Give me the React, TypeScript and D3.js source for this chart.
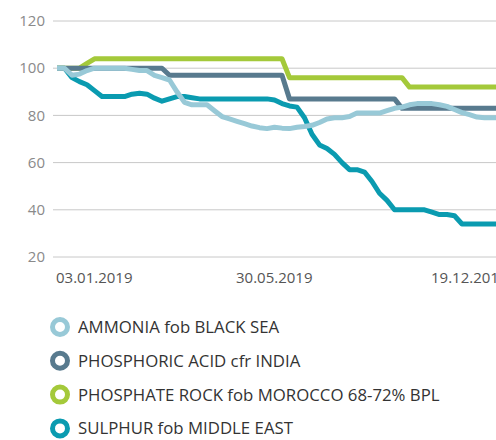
import React from "react";
import * as d3 from "d3";

const width = 496;
const height = 440;

// x categories: weekly-ish price points, only some dates are labelled
const tickLabels = ["03.01.2019", "30.05.2019", "19.12.2019"];
const tickIndex = [0, 24, 50];
const yTicks = [20, 40, 60, 80, 100, 120];

const ammonia = [
  100, 100, 97, 97.5, 99, 100, 100, 100, 100, 100,
  99.5, 99, 99, 97, 96, 95, 90, 85.5, 84.5, 84.5,
  84.5, 82, 79.5, 78.5, 77.5, 76.5, 75.5, 74.8, 74.4, 75,
  74.6, 74.4, 75, 75.3, 75.8, 77, 78.5, 79, 79, 79.5,
  81, 81, 81, 81, 82, 83, 83.5, 84.5, 85, 85,
  85, 84.5, 83.8, 82.5, 81.2, 80.3, 79.3, 79, 79, 79,
];
const phosphoric = [
  100, 100, 100, 100, 100, 100, 100, 100, 100, 100,
  100, 100, 100, 100, 100, 97, 97, 97, 97, 97,
  97, 97, 97, 97, 97, 97, 97, 97, 97, 97,
  97, 87, 87, 87, 87, 87, 87, 87, 87, 87,
  87, 87, 87, 87, 87, 87, 83, 83, 83, 83,
  83, 83, 83, 83, 83, 83, 83, 83, 83, 83,
];
const phosphate = [
  100, 100, 100, 100, 102, 104, 104, 104, 104, 104,
  104, 104, 104, 104, 104, 104, 104, 104, 104, 104,
  104, 104, 104, 104, 104, 104, 104, 104, 104, 104,
  104, 96, 96, 96, 96, 96, 96, 96, 96, 96,
  96, 96, 96, 96, 96, 96, 96, 92, 92, 92,
  92, 92, 92, 92, 92, 92, 92, 92, 92, 92,
];
const sulphur = [
  100, 100, 96, 94.3, 93, 90.5, 88, 88, 88, 88,
  89, 89.4, 89, 87.3, 86, 87, 88, 88, 87.5, 87,
  87, 87, 87, 87, 87, 87, 87, 87, 87, 86.5,
  85, 84, 83.5, 79, 72, 67.5, 66, 63.5, 60, 57,
  57, 56, 52, 47, 44, 40, 40, 40, 40, 40,
  39, 38, 38, 37.5, 34, 34, 34, 34, 34, 34,
];

const seriesNames = [
  "AMMONIA fob BLACK SEA",
  "PHOSPHORIC ACID cfr INDIA",
  "PHOSPHATE ROCK fob MOROCCO 68-72% BPL",
  "SULPHUR fob MIDDLE EAST",
];
const seriesValues = [ammonia, phosphoric, phosphate, sulphur];
const colors = ["#98c9d7", "#587a8e", "#a4c93a", "#0a9bb0"];

export default function App() {
  const plotLeft = 53;
  const x = d3
    .scaleLinear()
    .domain([0, ammonia.length - 1])
    .range([57, 57 + 7.5 * (ammonia.length - 1)]);
  const y = d3.scaleLinear().domain([20, 120]).range([257, 21]);

  const line = d3
    .line<number>()
    .x((_, i) => x(i))
    .y((d) => y(d));

  const drawOrder = [3, 2, 1, 0];

  return (
    <div style={{ position: "absolute", left: 0, top: 0 }}>
      <svg width={width} height={height} style={{ display: "block" }}>
        <defs>
          <clipPath id="plot">
            <rect x={0} y={0} width={width} height={270} />
          </clipPath>
        </defs>
        {yTicks.map((t) => (
          <g key={t}>
            <line x1={plotLeft} x2={width} y1={y(t)} y2={y(t)} stroke="#c8c8c8" strokeWidth={1} />
            <text
              x={45}
              y={y(t)}
              dy="0.35em"
              textAnchor="end"
              fill="#8a8a8a"
              fontFamily="'Open Sans', sans-serif"
              fontSize={15}
            >
              {t}
            </text>
          </g>
        ))}
        {tickIndex.map((ti, k) => (
          <text
            key={ti}
            x={x(ti) - 1}
            y={283}
            textAnchor="start"
            fill="#555"
            fontFamily="'Open Sans', sans-serif"
            fontSize={15}
          >
            {tickLabels[k]}
          </text>
        ))}
        <g clipPath="url(#plot)">
          {drawOrder.map((s) => (
            <path
              key={s}
              d={line(seriesValues[s]) || ""}
              fill="none"
              stroke={colors[s]}
              strokeWidth={5}
              strokeLinejoin="round"
            />
          ))}
        </g>
        {seriesNames.map((name, i) => {
          const ly = 327 + i * 33.8;
          return (
            <g key={name}>
              <circle cx={60} cy={ly} r={7.5} fill="#fff" stroke={colors[i]} strokeWidth={5} />
              <text
                x={78}
                y={ly}
                dy="0.36em"
                fill="#333"
                fontFamily="'Open Sans', sans-serif"
                fontSize={16.8}
              >
                {name}
              </text>
            </g>
          );
        })}
      </svg>
    </div>
  );
}
